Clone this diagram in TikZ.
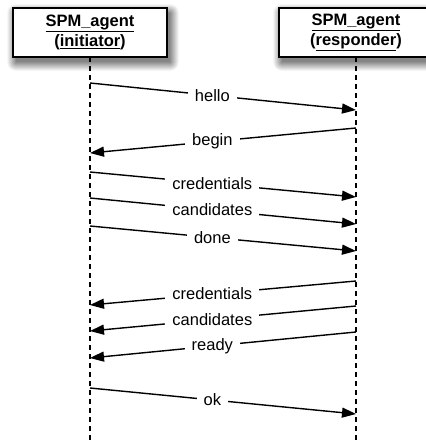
\documentclass[tikz,border=0pt]{standalone}
\usepackage{fontspec}
\setmainfont{Liberation Sans}
\usetikzlibrary{arrows.meta}
\begin{document}
\begin{tikzpicture}[x=1pt,y=-1pt,
  actor/.style={draw, line width=1.6pt, fill=white, minimum width=154pt,
    minimum height=49pt, inner sep=0pt, align=center,
    font=\bfseries\fontsize{16.5}{20}\selectfont},
  lifeline/.style={line width=1.4pt, dash pattern=on 5pt off 4pt},
  msg/.style={line width=1.4pt, -{Triangle[length=14pt,width=10pt]}},
  msglabel/.style={fill=white, inner xsep=7pt, inner ysep=1pt,
    font=\fontsize{16.5}{20}\selectfont}]
\useasboundingbox (0,0) rectangle (426,440);

% soft shadows behind the participant boxes: solid grey rings, dark to light
\foreach \cx in {90,356}{
  \foreach \r in {9,8,...,0}{
    \pgfmathsetmacro{\shade}{int(48-5*\r)}
    \fill[black!\shade, rounded corners=\r pt]
      (\cx-77+3-\r, 8+5-\r) rectangle (\cx+77+3+\r, 57+5+\r);
  }
}

% lifelines
\coordinate (itop) at (90,57);
\coordinate (rtop) at (356,57);
\coordinate (iend) at (90,440);
\coordinate (rend) at (356,440);
\draw[lifeline] (itop) -- (iend);
\draw[lifeline] (rtop) -- (rend);

% participants
\node[actor] (init) at (90,32.5) {\underline{SPM\_agent}\\(\underline{initiator})};
\node[actor] (resp) at (356,32.5) {\underline{SPM\_agent}\\(\underline{responder})};

% messages: number / start x / end x / start y / end y / label position / label
\foreach \n/\xs/\xe/\ys/\ye/\p/\t in {
  1/90/356/83/110/0.46/hello,
  2/356/90/128/153/0.54/begin,
  3/90/356/172/197/0.46/credentials,
  4/90/356/198/224/0.46/candidates,
  5/90/356/226/251/0.46/done,
  6/356/90/281/305/0.54/credentials,
  7/356/90/306/331/0.54/candidates,
  8/356/90/332/358/0.54/ready,
  9/90/356/388/414/0.46/ok}{
  \coordinate (m\n s) at (\xs,\ys);
  \coordinate (m\n e) at (\xe,\ye);
  \draw[msg] (m\n s) -- node[msglabel, pos=\p] (l\n) {\t} (m\n e);
}
\end{tikzpicture}
\end{document}
